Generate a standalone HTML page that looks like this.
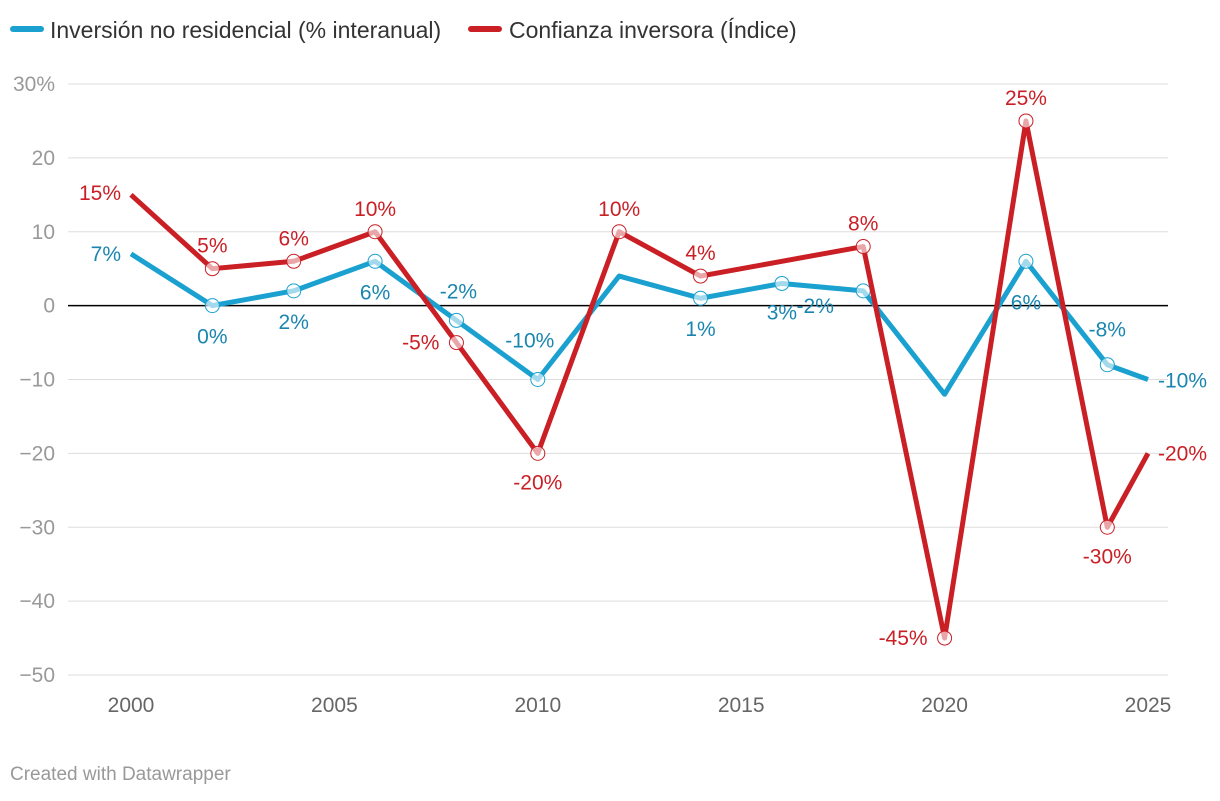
<!DOCTYPE html>
<html><head><meta charset="utf-8"><style>
body{margin:0;background:#fff;font-family:"Liberation Sans",sans-serif}
svg text{font-family:"Liberation Sans",sans-serif}
</style></head><body>
<svg id="chart" width="1220" height="796" xmlns="http://www.w3.org/2000/svg">
<g>
<g><rect x="10" y="26" width="34" height="6" rx="3" fill="#1aa1d0"/><text x="50" y="38" font-size="23" fill="#333">Inversión no residencial (% interanual)</text></g>
<g><rect x="468" y="26" width="34" height="6" rx="3" fill="#c91f25"/><text x="509" y="38" font-size="23" fill="#333">Confianza inversora (Índice)</text></g>
</g>
<g id="grid"></g>
<g id="series"></g>
<text x="10" y="780" font-size="19" fill="#999">Created with Datawrapper</text>
</svg>
<script>
const years=[2000,2002,2004,2006,2008,2010,2012,2014,2016,2018,2020,2022,2024,2025];
const inversion=[7,0,2,6,-2,-10,4,1,3,2,-12,6,-8,-10];
const confianza=[15,5,6,10,-5,-20,10,4,6,8,-45,25,-30,-20];
const yTicks=[30,20,10,0,-10,-20,-30,-40,-50];
const xTicks=[2000,2005,2010,2015,2020,2025];
const blueMarkers=[1,2,3,4,5,7,8,9,11,12];
const redMarkers=[1,2,3,4,5,6,7,9,10,11,12];
const blueLabels=[[0,"7%"],[1,"0%"],[2,"2%"],[3,"6%"],[4,"-2%"],[5,"-10%"],[7,"1%"],[8,"3%"],[9,"-2%"],[11,"6%"],[12,"-8%"],[13,"-10%"]];
const redLabels=[[0,"15%"],[1,"5%"],[2,"6%"],[3,"10%"],[4,"-5%"],[5,"-20%"],[6,"10%"],[7,"4%"],[9,"8%"],[10,"-45%"],[11,"25%"],[12,"-30%"],[13,"-20%"]];
const NS="http://www.w3.org/2000/svg";
const X=v=>131+(v-2000)*(1148-131)/25;
const Y=v=>84+(30-v)*(675-84)/80;
function mk(t,a,p){const e=document.createElementNS(NS,t);for(const k in a)e.setAttribute(k,a[k]);p.appendChild(e);return e;}
const grid=document.getElementById('grid'),ser=document.getElementById('series');
yTicks.forEach(v=>{
 const l=mk('line',{x1:68,x2:1168,y1:Y(v),y2:Y(v),stroke:v===0?'#000':'#ddd','stroke-width':v===0?1.5:1},grid);
 
 
 const t=mk('text',{x:55,y:Y(v)+7,'text-anchor':'end','font-size':21,fill:'#999'},grid);
 t.textContent=(v===30?'30%':(v<0?'−'+(-v):v));
 
 
});
xTicks.forEach(v=>{
 const t=mk('text',{x:X(v),y:712,'text-anchor':'middle','font-size':21,fill:'#666'},grid);
 t.textContent=v;
 
 
});
function series(vals,color,markers,labels,lc,name,offs){
 const p=mk('polyline',{points:years.map((y,i)=>X(y)+','+Y(vals[i])).join(' '),fill:'none',stroke:color,'stroke-width':5,'stroke-linejoin':'round'},ser);
 
 
 markers.forEach(i=>{
  const c=mk('circle',{cx:X(years[i]),cy:Y(vals[i]),r:7,fill:'#fff','fill-opacity':0.6,stroke:color,'stroke-width':1},ser);
  
  
 });
 labels.forEach(([i,s],k)=>{
  const o=offs[k];
  const t=mk('text',{x:X(years[i])+o[0],y:Y(vals[i])+o[1],'text-anchor':o[2]||'middle','font-size':21,fill:lc},ser);
  t.textContent=s;
  
  
 });
}
series(inversion,'#1aa1d0',blueMarkers,blueLabels,'#1a86b0','inversion',
 [[-10,7,'end'],[0,38],[0,38],[0,38],[2,-22],[-8,-32],[0,38],[0,36],[-48,22],[0,48],[0,-28],[10,8,'start']]);
series(confianza,'#c91f25',redMarkers,redLabels,'#c91f25','confianza',
 [[-10,5,'end'],[0,-16],[0,-16],[0,-16],[-17,7,'end'],[0,36],[0,-16],[0,-16],[0,-16],[-17,7,'end'],[0,-16],[0,36],[10,7,'start']]);
</script>
</body></html>
